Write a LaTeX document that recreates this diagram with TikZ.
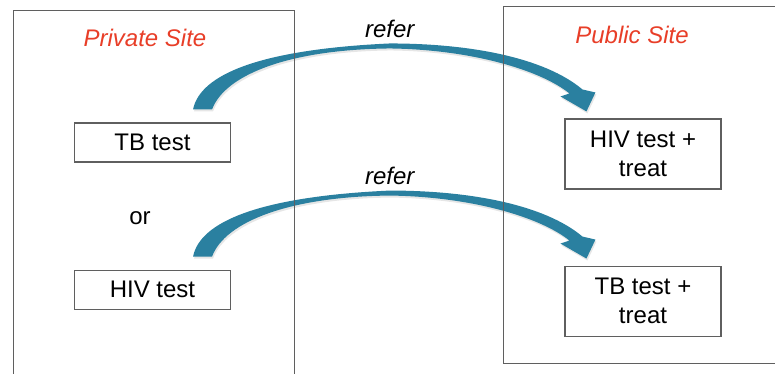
\documentclass[tikz,border=0pt]{standalone}
\usepackage{fontspec}
\setmainfont{Liberation Sans}
\usetikzlibrary{positioning}
\usetikzlibrary{calc}
\usetikzlibrary{shadows}
\definecolor{mteal}{RGB}{42,128,160}
\definecolor{mred}{RGB}{232,62,40}
\definecolor{mgray}{RGB}{95,95,95}
\tikzset{testbox/.style = {draw=mgray, line width=1.1pt, minimum width=156pt, inner sep=0,
                           align=center, font=\fontsize{24}{29}\selectfont}}
\tikzset{sitebox/.style = {draw=mgray, line width=1pt}}
\tikzset{sitelabel/.style = {mred, font=\fontsize{24}{29}\selectfont\itshape}}
\tikzset{referlabel/.style = {font=\fontsize{24}{29}\selectfont\itshape}}
\tikzset{refarrow/.style = {fill=mteal,
                            drop shadow={opacity=0.2, shadow xshift=1pt, shadow yshift=-2pt}}}
\newcommand{\referarrow}[2]{
  \coordinate (#1-to) at ($(#1.north east)+(-38,-13)$);
  \coordinate (#1-ti) at ($(#1.north east)+(-19,-13)$);
  \coordinate (#1-mo) at ($(#1.north east)!0.5!(#2.north west)+(-8,-77)$);
  \coordinate (#1-mi) at ($(#1-mo)+(0,5)$);
  \coordinate (#1-ho) at ($(#2.north west)+(18,-29)$);
  \coordinate (#1-hi) at ($(#2.north west)+(5,-25)$);
  \fill [refarrow] (#1-to) .. controls +(7,-35) and +(-130,6) .. (#1-mo)
    .. controls +(80,0) and +(-38,-32) .. (#1-ho)
    -- ($(#2.north west)+(31,-26)$) -- ($(#2.north west)+(22,-7)$)
    -- ($(#2.north west)+(-4,-22)$) -- (#1-hi)
    .. controls +(-30,-24) and +(80,1) .. (#1-mi)
    .. controls +(-100,1) and +(13,-35) .. (#1-ti) -- cycle;
  \node [referlabel] (#1-refer) at ($(#1-mo)+(0,-15)$) {refer};
}

\begin{document}
\begin{tikzpicture}[x=1pt, y=-1pt]
      \useasboundingbox (0,0) rectangle (775,373);
      \clip (0,0) rectangle (775,373);

      \node [sitelabel] (private) at (145,38) {Private Site};
      \node [sitelabel] (public) at (632,35) {Public Site};

      \node [testbox, minimum height=39pt] (tb) at (152.5,142.5) {TB test};
      \node [testbox, minimum height=39pt] (hiv) [below=107pt of tb] {HIV test};
      \node [font=\fontsize{24}{29}\selectfont] (or) at (140,218) {or};

      \node [testbox, minimum height=70pt] (hivtreat) at (643,154) {HIV test +\\treat};
      \node [testbox, minimum height=70pt] (tbtreat) [below=76pt of hivtreat] {TB test +\\treat};

      \referarrow{tb}{hivtreat}
      \referarrow{hiv}{tbtreat}

      \draw [sitebox] (13,10) rectangle (294,395);
      \draw [sitebox] (503,6) rectangle (795,363);
    \end{tikzpicture}
\end{document}
